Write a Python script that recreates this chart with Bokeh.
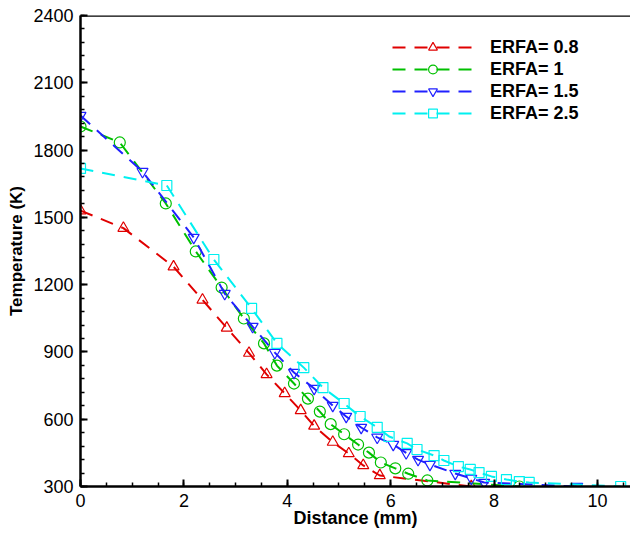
from bokeh.plotting import figure
from bokeh.models import (Range1d, SingleIntervalTicker, Legend, LegendItem, Span)
from bokeh.embed import file_html
from bokeh.resources import INLINE

# ---------------- data ----------------
red_x = [0, 0.83, 1.80, 2.36, 2.83, 3.26, 3.60, 3.95, 4.26, 4.52, 4.88, 5.19, 5.47, 5.79, 7.56]
red_y = [1530, 1452, 1280, 1132, 1007, 895, 800, 715, 639, 570, 498, 447, 394, 349, 300]

green_x = [0, 0.76, 1.65, 2.23, 2.73, 3.16, 3.55, 3.80, 4.13, 4.40, 4.63, 4.84, 5.10,
           5.37, 5.58, 5.81, 6.09, 6.34, 6.71, 8.49]
green_y = [1905, 1834, 1562, 1348, 1187, 1049, 938, 839, 759, 692, 634, 578, 533,
           487, 451, 407, 381, 357, 327, 300]

blue_x = [0, 1.20, 2.19, 2.79, 3.33, 3.76, 4.13, 4.52, 4.88, 5.14, 5.43, 5.74, 6.05,
          6.30, 6.53, 6.76, 7.25, 7.56, 7.81, 9.61]
blue_y = [1954, 1704, 1410, 1160, 1013, 897, 808, 737, 661, 612, 563, 519, 487,
          450, 420, 398, 358, 336, 318, 300]

cyan_x = [0, 1.67, 2.58, 3.31, 3.80, 4.32, 4.69, 5.10, 5.41, 5.74, 5.97, 6.32, 6.51,
          6.84, 7.03, 7.31, 7.54, 7.71, 7.95, 8.24, 8.49, 8.68, 10.45]
cyan_y = [1718, 1642, 1312, 1094, 938, 830, 741, 670, 612, 564, 523, 492, 465,
          438, 416, 389, 376, 362, 345, 331, 322, 318, 300]

labels = ["ERFA= 0.8", "ERFA= 1", "ERFA= 1.5", "ERFA= 2.5"]
colors = ["#e00000", "#00c000", "#2020ff", "#00f0f0"]
markers = ["triangle", "circle", "inverted_triangle", "square"]
marker_sizes = [11, 11, 11, 10]
series = [(red_x, red_y), (green_x, green_y), (blue_x, blue_y), (cyan_x, cyan_y)]

X_MIN, X_MAX = 0, 10.64
Y_MIN, Y_MAX = 300, 2400
FONT = "Liberation Sans"

p = figure(width=630, height=533, output_backend="svg", toolbar_location=None,
           x_range=Range1d(X_MIN, X_MAX), y_range=Range1d(Y_MIN, Y_MAX),
           min_border_left=80, min_border_top=15, min_border_right=0, min_border_bottom=47)
p.outline_line_color = None
p.grid.visible = False
p.background_fill_color = "white"
p.border_fill_color = "white"

items = []
for (xs, ys), lab, c, m, s in zip(series, labels, colors, markers, marker_sizes):
    ln = p.line(xs, ys, line_color=c, line_width=2, line_dash="13 9")
    sc = p.scatter(xs, ys, marker=m, size=s, line_color=c, fill_color=None, line_width=1.2)
    items.append(LegendItem(label=lab, renderers=[ln, sc]))

legend = Legend(items=items, location=(312, 362), glyph_width=81, glyph_height=22,
                label_height=22, spacing=0, padding=0, margin=0, label_standoff=17,
                border_line_color=None, background_fill_alpha=0,
                label_text_font=FONT, label_text_font_size="18px",
                label_text_font_style="bold", label_text_color="black")
p.add_layout(legend)

for ax in (p.xaxis[0], p.yaxis[0]):
    ax.axis_line_width = 2.5
    ax.axis_line_color = "black"
    ax.major_tick_in = 7
    ax.major_tick_out = 0
    ax.minor_tick_in = 4
    ax.minor_tick_out = 0
    ax.major_tick_line_width = 2
    ax.minor_tick_line_width = 1.5
    ax.major_label_text_font = FONT
    ax.major_label_text_font_size = "18px"
    ax.major_label_text_color = "black"
    ax.axis_label_text_font = FONT
    ax.axis_label_text_font_style = "bold"
    ax.axis_label_text_color = "black"

p.xaxis[0].ticker = SingleIntervalTicker(interval=2, num_minor_ticks=4)
p.yaxis[0].ticker = SingleIntervalTicker(interval=300, num_minor_ticks=5)
p.xaxis[0].axis_label = "Distance (mm)"
p.yaxis[0].axis_label = "Temperature (K)"
p.xaxis[0].axis_label_text_font_size = "18px"
p.yaxis[0].axis_label_text_font_size = "17px"
p.xaxis[0].major_label_standoff = 7
p.yaxis[0].major_label_standoff = 7
p.xaxis[0].axis_label_standoff = -2
p.yaxis[0].axis_label_standoff = 4

# top frame border
p.add_layout(Span(location=Y_MAX, dimension="width", line_color="black", line_width=2.5))

open("out.html", "w").write(file_html(p, INLINE))
